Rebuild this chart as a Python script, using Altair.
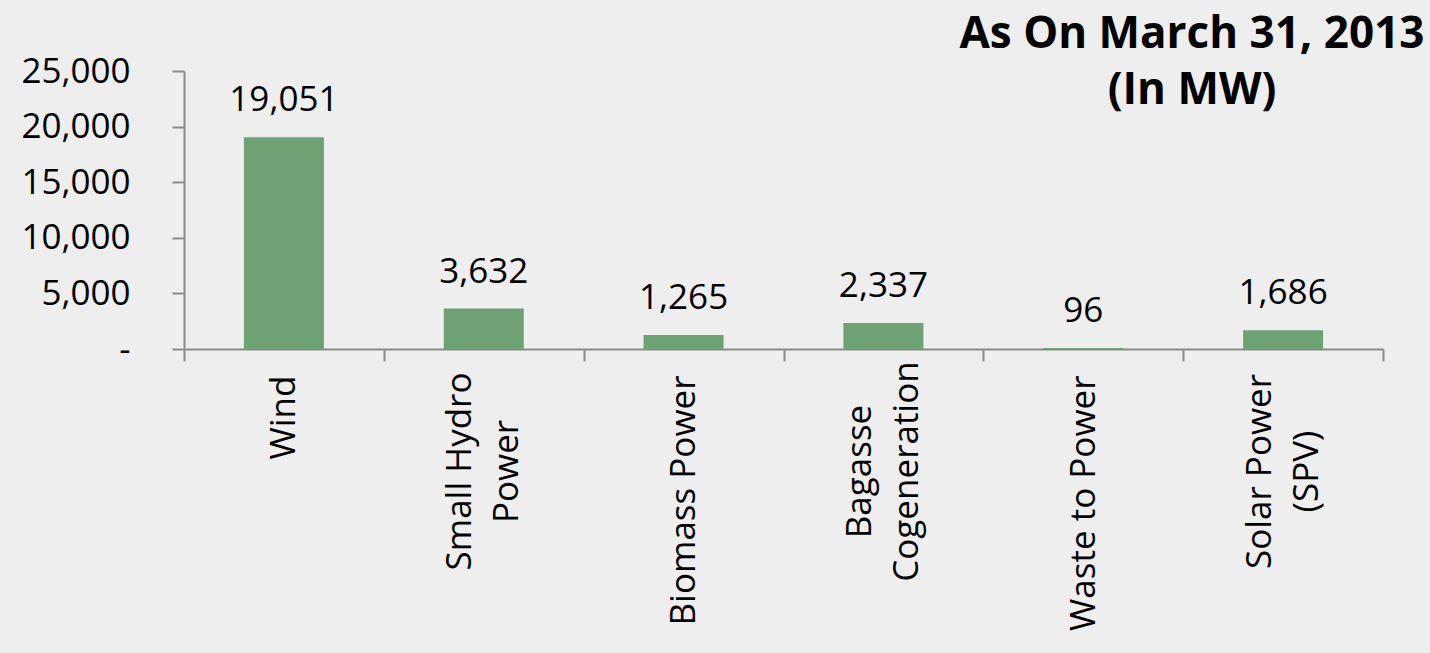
import altair as alt
import pandas as pd

categories = ["Wind", "Small Hydro|Power", "Biomass Power", "Bagasse|Cogeneration", "Waste to Power", "Solar Power|(SPV)"]
values = [19051, 3632, 1265, 2337, 96, 1686]
title_lines = "As On March 31, 2013\n(In MW)"
y_ticks = [0, 5000, 10000, 15000, 20000, 25000]

FONT = "Open Sans"
FS = 35
GRAY = "#8a8a8a"
df = pd.DataFrame({"cat": categories, "val": values})

scale_x = alt.Scale(paddingInner=0, paddingOuter=0)
common_lab = dict(
    labelAngle=-90, labelFontSize=FS, labelFont=FONT, labelColor="black",
    labelLineHeight=47, labelOverlap=False, labelLimit=400,
    orient="bottom", tickBand="extent",
)

# axis 1: domain, ticks and single-line labels
x_main = alt.X(
    "cat:N", sort=categories, title=None, scale=scale_x,
    axis=alt.Axis(
        labelExpr="indexof(datum.label, '|') >= 0 ? '' : datum.label",
        labelPadding=14, tickSize=12, tickColor=GRAY, tickWidth=2,
        domainColor=GRAY, domainWidth=2,
        **common_lab,
    ),
)
# axis 2: two-line labels, lines centred on each other and on the band
x_multi = alt.X(
    "cat:N", sort=categories, title=None, scale=scale_x,
    axis=alt.Axis(
        labelExpr="indexof(datum.label, '|') >= 0 ? split(datum.label, '|') : ''",
        labelOffset=-24, labelAlign="center", labelPadding=122,
        domain=False, ticks=False,
        **common_lab,
    ),
)
y_enc = alt.Y(
    "val:Q", title=None,
    scale=alt.Scale(domain=[0, 25000], nice=False),
    axis=alt.Axis(
        values=y_ticks, grid=False, labelFontSize=FS, labelFont=FONT, labelColor="black",
        labelExpr="datum.value == 0 ? '-' : format(datum.value, ',')",
        labelPadding=42, tickSize=12, tickColor=GRAY, tickWidth=2,
        domainColor=GRAY, domainWidth=2,
    ),
)

bars = alt.Chart(df).mark_bar(color="#6EA274", size=80).encode(x=x_main, y=y_enc)
labels = alt.Chart(df).mark_text(
    font=FONT, fontSize=FS, color="black", dy=-37, baseline="middle"
).encode(x=x_multi, y="val:Q", text=alt.Text("val:Q", format=","))

title = alt.Chart(pd.DataFrame({"t": [title_lines]})).mark_text(
    font=FONT, fontSize=44, fontWeight="bold", color="black", lineBreak="\n",
    lineHeight=56, align="center", baseline="top"
).encode(x=alt.value(1008), y=alt.value(-58), text="t:N")

chart = alt.layer(bars, labels, title).resolve_axis(x="independent").properties(
    width=1199, height=278,
    autosize=alt.AutoSizeParams(type="none"),
    padding={"left": 184, "top": 71, "right": 47, "bottom": 304},
).configure(background="#eeeeee").configure_view(stroke=None)

chart.save("out.html", embed_options={"renderer": "svg", "actions": False})
